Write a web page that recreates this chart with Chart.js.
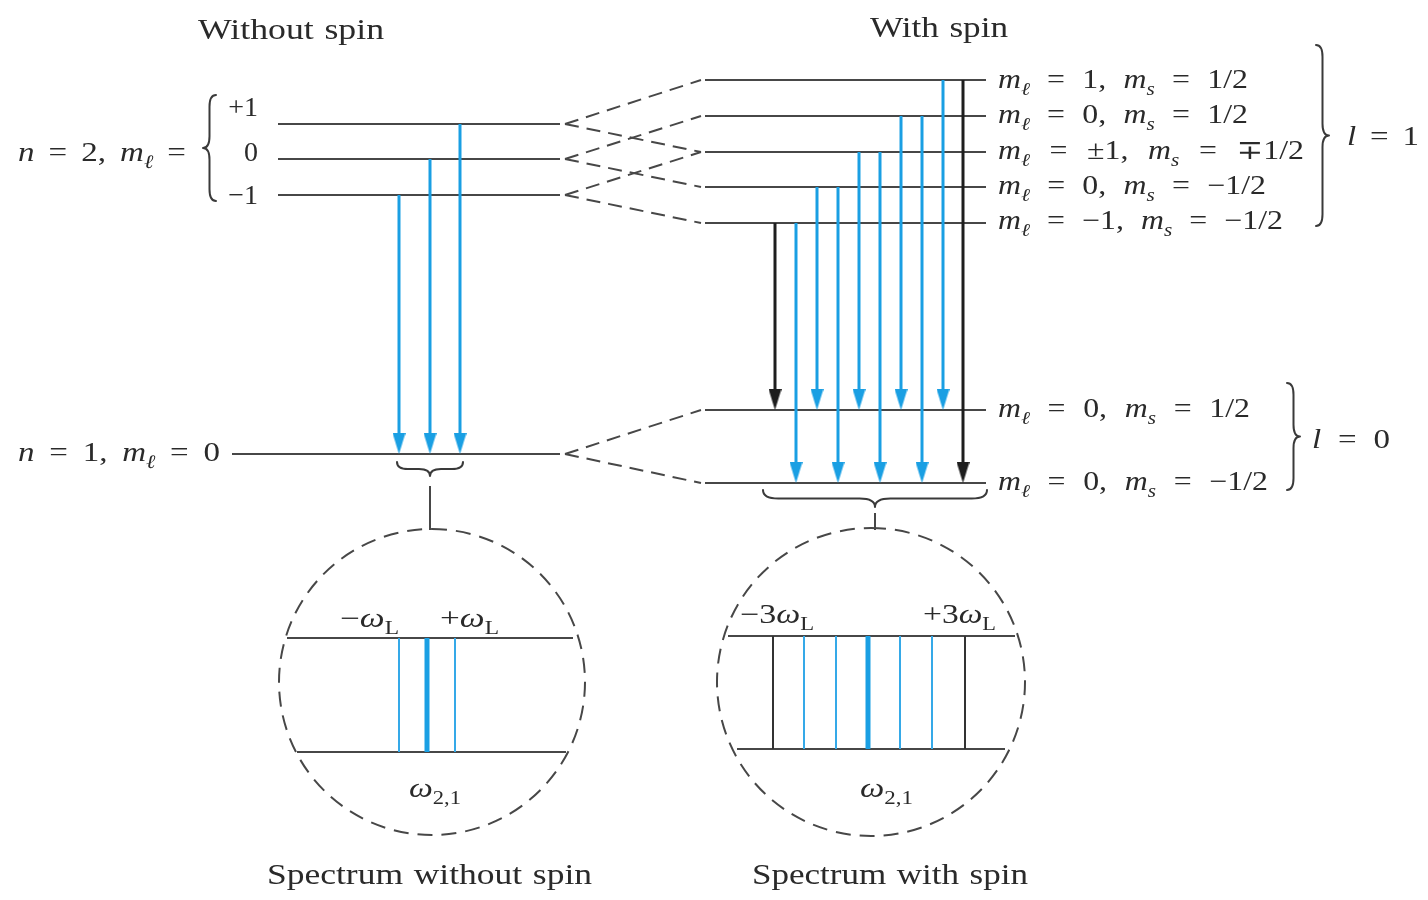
<!DOCTYPE html>
<html>
<head>
<meta charset="utf-8">
<script src="https://cdn.jsdelivr.net/npm/chart.js@4/dist/chart.umd.min.js"></script>
<style>
html,body{margin:0;padding:0;background:#fff;}
#wrap{width:1428px;height:900px;}
canvas{display:block;}
</style>
</head>
<body>
<div id="wrap"><canvas id="c" width="1428" height="900"></canvas></div>
<script>
// ================= DATA (diagram units: x across, y = energy position, top = 0) =================
// --- Without spin ---
const n2Labels      = ['+1', '0', '−1'];
const n2Energy      = [124, 159, 195];          // n = 2 levels, m_l = +1, 0, −1
const n1Energy      = [454];                    // n = 1, m_l = 0
const noSpinArrowX    = [399, 430, 460];
const noSpinArrowFrom = [195, 159, 124];
const noSpinArrowTo   = [454, 454, 454];

// --- With spin ---
const spinUpperEnergy = [80, 116, 152, 187, 223];
const spinLowerEnergy = [410, 483];
const spinArrowX    = [775, 796, 817, 838, 859, 880, 901, 922, 943, 963];
const spinArrowFrom = [223, 223, 187, 187, 152, 152, 116, 116, 80, 80];
const spinArrowTo   = [410, 483, 410, 483, 410, 483, 410, 483, 410, 483];
const spinArrowKind = ['black','blue','blue','blue','blue','blue','blue','blue','blue','black'];

// --- Splitting connectors (left level -> right level) ---
const splitFrom = [124, 124, 159, 159, 195, 195, 454, 454];
const splitTo   = [80, 152, 116, 187, 152, 223, 410, 483];

// --- Spectra inside the lenses ---
const specNoSpinX    = [399, 427, 455];
const specNoSpinKind = ['thin', 'thick', 'thin'];
const specSpinX      = [773, 804, 836, 868, 900, 932, 965];
const specSpinKind   = ['black', 'thin', 'thin', 'thick', 'thin', 'thin', 'black'];

// --- Text ---
const titles      = ['Without spin', 'With spin'];
const captions    = ['Spectrum without spin', 'Spectrum with spin'];
const n2Text      = '*n* = 2, *m*_{*ℓ*} =';
const n1Text      = '*n* = 1, *m*_{*ℓ*} = 0';
const upperSpinText = [
  '*m*_{*ℓ*} = 1, *m*_{*s*} = 1/2',
  '*m*_{*ℓ*} = 0, *m*_{*s*} = 1/2',
  '*m*_{*ℓ*} = ±1, *m*_{*s*} = ∓1/2',
  '*m*_{*ℓ*} = 0, *m*_{*s*} = −1/2',
  '*m*_{*ℓ*} = −1, *m*_{*s*} = −1/2'
];
const lowerSpinText = ['*m*_{*ℓ*} = 0, *m*_{*s*} = 1/2', '*m*_{*ℓ*} = 0, *m*_{*s*} = −1/2'];
const lText       = ['*l* = 1', '*l* = 0'];
const specNoSpinText = ['−*ω*_{L}', '+*ω*_{L}', '*ω*_{2,1}'];
const specSpinText   = ['−3*ω*_{L}', '+3*ω*_{L}', '*ω*_{2,1}'];

// ================= STYLE / LAYOUT =================
const BLUE = '#1a9fe3', BLUE_LIGHT = '#35a9e8', BLACK = '#1e1e1e', LINE = '#474747', TEXT = '#2a2a2a';
const SERIF = '"Liberation Serif","DejaVu Serif","Times New Roman",serif';

function seg(x1, y1, x2, y2, color, width, dash, order) {
  return { data: [{x:x1,y:y1},{x:x2,y:y2}], showLine: true, borderColor: color, borderWidth: width,
           borderDash: dash || [], pointRadius: 0, fill: false, order: order, borderCapStyle: 'butt' };
}
function makeHead(color) {
  const c = document.createElement('canvas'); c.width = 13; c.height = 42;
  const g = c.getContext('2d'); g.fillStyle = color;
  g.beginPath(); g.moveTo(0, 0); g.lineTo(13, 0); g.lineTo(6.5, 21); g.closePath(); g.fill();
  return c;
}
const headBlue = makeHead(BLUE), headBlack = makeHead(BLACK);

const datasets = [];
// energy levels
n2Energy.forEach(e => datasets.push(seg(278, e, 560, e, LINE, 2.2, null, 10)));
n1Energy.forEach(e => datasets.push(seg(232, e, 560, e, LINE, 2.2, null, 10)));
spinUpperEnergy.forEach(e => datasets.push(seg(705, e, 986, e, LINE, 2.2, null, 10)));
spinLowerEnergy.forEach(e => datasets.push(seg(705, e, 986, e, LINE, 2.2, null, 10)));
// splitting connectors
splitFrom.forEach((f, i) => datasets.push(seg(565, f, 701, splitTo[i], LINE, 2, [14, 8], 10)));
// arrows (shafts)
noSpinArrowX.forEach((x, i) => datasets.push(seg(x, noSpinArrowFrom[i], x, noSpinArrowTo[i] - 12, BLUE, 3, null, 4)));
spinArrowX.forEach((x, i) => datasets.push(seg(x, spinArrowFrom[i], x, spinArrowTo[i] - 12,
  spinArrowKind[i] === 'black' ? BLACK : BLUE, 3, null, 4)));
// arrow heads
const blueTips = [], blackTips = [];
noSpinArrowX.forEach((x, i) => blueTips.push({x, y: noSpinArrowTo[i]}));
spinArrowX.forEach((x, i) => (spinArrowKind[i] === 'black' ? blackTips : blueTips).push({x, y: spinArrowTo[i]}));
datasets.push({ data: blueTips, showLine: false, pointStyle: headBlue, pointRadius: 6, order: 1 });
datasets.push({ data: blackTips, showLine: false, pointStyle: headBlack, pointRadius: 6, order: 1 });
// brace stems
datasets.push(seg(430, 486, 430, 530, LINE, 2, null, 10));
datasets.push(seg(875, 513, 875, 530, LINE, 2, null, 10));
// spectrum frames
datasets.push(seg(287, 638, 573, 638, LINE, 2, null, 10));
datasets.push(seg(297, 752, 566, 752, LINE, 2, null, 10));
datasets.push(seg(728, 636, 1015, 636, LINE, 2, null, 10));
datasets.push(seg(737, 749, 1005, 749, LINE, 2, null, 10));
// spectrum lines
const specStyle = k => k === 'thick' ? [BLUE, 5] : k === 'thin' ? [BLUE_LIGHT, 2] : ['#333', 2];
specNoSpinX.forEach((x, i) => { const s = specStyle(specNoSpinKind[i]); datasets.push(seg(x, 638, x, 752, s[0], s[1], null, 5)); });
specSpinX.forEach((x, i) => { const s = specStyle(specSpinKind[i]); datasets.push(seg(x, 636, x, 749, s[0], s[1], null, 5)); });

// ---------- text layout ----------
const labels = [
  {t: titles[0], x0: 198, x1: 384, y: 39, s: 30, mode: 'stretch'},
  {t: titles[1], x0: 870, x1: 1008, y: 37, s: 30, mode: 'stretch'},
  {t: captions[0], x0: 267, x1: 592, y: 884, s: 30, mode: 'stretch'},
  {t: captions[1], x0: 752, x1: 1028, y: 884, s: 30, mode: 'stretch'},
  {t: n2Text, x0: 18, x1: 186, y: 161, s: 28, mode: 'justify'},
  {t: n1Text, x0: 18, x1: 220, y: 461, s: 28, mode: 'justify'},
  {t: n2Labels[0], x0: 224, x1: 258, y: 116, s: 28, mode: 'right'},
  {t: n2Labels[1], x0: 224, x1: 258, y: 161, s: 28, mode: 'right'},
  {t: n2Labels[2], x0: 224, x1: 258, y: 204, s: 28, mode: 'right'},
  {t: upperSpinText[0], x0: 998, x1: 1248, y: 88,  s: 27, mode: 'justify'},
  {t: upperSpinText[1], x0: 998, x1: 1248, y: 123, s: 27, mode: 'justify'},
  {t: upperSpinText[2], x0: 998, x1: 1304, y: 159, s: 27, mode: 'justify'},
  {t: upperSpinText[3], x0: 998, x1: 1266, y: 194, s: 27, mode: 'justify'},
  {t: upperSpinText[4], x0: 998, x1: 1283, y: 229, s: 27, mode: 'justify'},
  {t: lowerSpinText[0], x0: 998, x1: 1250, y: 417, s: 27, mode: 'justify'},
  {t: lowerSpinText[1], x0: 998, x1: 1268, y: 490, s: 27, mode: 'justify'},
  {t: lText[0], x0: 1347, x1: 1419, y: 145, s: 28, mode: 'justify'},
  {t: lText[1], x0: 1312, x1: 1390, y: 448, s: 28, mode: 'justify'},
  {t: specNoSpinText[0], x0: 340, x1: 399, y: 627, s: 27, mode: 'stretch'},
  {t: specNoSpinText[1], x0: 440, x1: 499, y: 627, s: 27, mode: 'stretch'},
  {t: specNoSpinText[2], x0: 409, x1: 461, y: 797, s: 27, mode: 'stretch'},
  {t: specSpinText[0], x0: 740, x1: 814, y: 623, s: 27, mode: 'stretch'},
  {t: specSpinText[1], x0: 923, x1: 996, y: 623, s: 27, mode: 'stretch'},
  {t: specSpinText[2], x0: 860, x1: 913, y: 797, s: 27, mode: 'stretch'}
];
const lenses = [{cx: 432, cy: 682, r: 153}, {cx: 871, cy: 682, r: 154}];
const braces = [
  {v: true,  a: 95,  b: 201, base: 216, d: -13},
  {v: false, a: 397, b: 463, base: 462, d: 14},
  {v: false, a: 763, b: 987, base: 490, d: 17},
  {v: true,  a: 45,  b: 226, base: 1316, d: 13},
  {v: true,  a: 383, b: 490, base: 1287, d: 13}
];
const GLYPH_WIDEN = 1.18;   // math glyphs are wider in the original typeface

function parseRich(str) {
  const runs = []; let it = false, sub = false, buf = '';
  const push = () => { if (buf) { runs.push({t: buf, it, sub}); buf = ''; } };
  for (let i = 0; i < str.length; i++) {
    const ch = str[i];
    if (ch === '*') { push(); it = !it; }
    else if (ch === '_' && str[i + 1] === '{') { push(); sub = true; i++; }
    else if (ch === '}' && sub) { push(); sub = false; }
    else if (ch === ' ') { push(); runs.push({space: true}); }
    else buf += ch;
  }
  push();
  return runs;
}

function drawRich(ctx, lab, X, Y) {
  const S = lab.s, runs = parseRich(lab.t);
  const gw = lab.mode === 'justify' ? GLYPH_WIDEN : 1;
  let nat = 0, nsp = 0;
  runs.forEach(r => {
    if (r.space) { r.w = S * 0.3; nsp++; }
    else {
      r.font = (r.it ? 'italic ' : '') + (r.sub ? Math.round(S * 0.68) : S) + 'px ' + SERIF;
      ctx.font = r.font; r.w = ctx.measureText(r.t).width * gw;
    }
    nat += r.w;
  });
  const x0 = X(lab.x0), x1 = X(lab.x1), target = x1 - x0;
  let sx = 1, start = x0;
  if (lab.mode === 'justify' && nsp) {
    const add = (target - nat) / nsp;
    nat = 0;
    runs.forEach(r => { if (r.space) r.w = Math.max(S * 0.12, r.w + add); nat += r.w; });
    sx = target / nat;
  } else if (lab.mode === 'stretch') {
    sx = target / nat;
  } else if (lab.mode === 'right') {
    start = x1 - nat;
  }
  ctx.save();
  ctx.translate(start, Y(lab.y));
  ctx.scale(sx, 1);
  ctx.fillStyle = TEXT; ctx.textBaseline = 'alphabetic'; ctx.textAlign = 'left';
  let cx = 0;
  runs.forEach(r => {
    if (!r.space) {
      ctx.font = r.font;
      ctx.save(); ctx.translate(cx, r.sub ? S * 0.25 : 0); ctx.scale(gw, 1);
      ctx.fillText(r.t, 0, 0); ctx.restore();
    }
    cx += r.w;
  });
  ctx.restore();
}

function drawBrace(ctx, br, X, Y) {
  const {a, b, base, d, v} = br;
  const m = (a + b) / 2, h = d / 2, r = Math.min(Math.abs(d) * 0.9, (b - a) / 6);
  const P = (u, w) => v ? [X(base + w), Y(u)] : [X(u), Y(base + w)];
  ctx.beginPath();
  ctx.moveTo(...P(a, 0));
  ctx.quadraticCurveTo(...P(a, h), ...P(a + r, h));
  ctx.lineTo(...P(m - r, h));
  ctx.quadraticCurveTo(...P(m, h), ...P(m, d));
  ctx.quadraticCurveTo(...P(m, h), ...P(m + r, h));
  ctx.lineTo(...P(b - r, h));
  ctx.quadraticCurveTo(...P(b, h), ...P(b, 0));
  ctx.stroke();
}

const extras = {
  id: 'extras',
  afterDatasetsDraw(chart) {
    const ctx = chart.ctx, xs = chart.scales.x, ys = chart.scales.y;
    const X = v => xs.getPixelForValue(v), Y = v => ys.getPixelForValue(v);
    ctx.save();
    // lenses
    ctx.strokeStyle = LINE; ctx.lineWidth = 2; ctx.setLineDash([15, 9]);
    lenses.forEach(l => {
      const r = X(l.cx + l.r) - X(l.cx);
      ctx.beginPath(); ctx.arc(X(l.cx), Y(l.cy), r, -Math.PI / 2, 1.5 * Math.PI); ctx.stroke();
    });
    ctx.setLineDash([]);
    // braces
    ctx.strokeStyle = '#3a3a3a'; ctx.lineWidth = 2; ctx.lineJoin = 'round'; ctx.lineCap = 'round';
    braces.forEach(br => drawBrace(ctx, br, X, Y));
    // texts
    labels.forEach(lab => drawRich(ctx, lab, X, Y));
    ctx.restore();
  }
};

new Chart(document.getElementById('c'), {
  type: 'scatter',
  data: { datasets },
  options: {
    responsive: false, animation: false, events: [],
    layout: { padding: 0, autoPadding: false },
    plugins: { legend: { display: false }, tooltip: { enabled: false } },
    scales: {
      x: { type: 'linear', min: 0, max: 1428, display: false },
      y: { type: 'linear', min: 0, max: 900, reverse: true, display: false }
    },
    elements: { line: { tension: 0 } }
  },
  plugins: [extras]
});
</script>
</body>
</html>
